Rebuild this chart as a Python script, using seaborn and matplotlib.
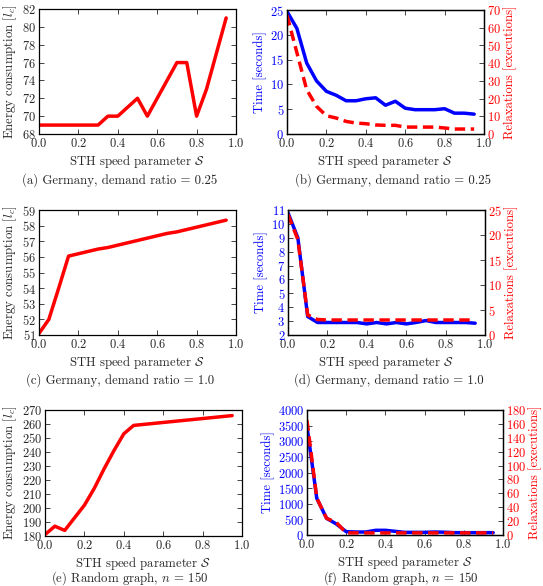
import numpy as np
import matplotlib
matplotlib.use("Agg")
import matplotlib.pyplot as plt
import seaborn as sns

# STH speed parameter (same grid for every panel)
speed = [0.0, 0.05, 0.1, 0.15, 0.2, 0.25, 0.3, 0.35, 0.4, 0.45,
         0.5, 0.55, 0.6, 0.65, 0.7, 0.75, 0.8, 0.85, 0.9, 0.95]

# (a) Germany, demand ratio 0.25
energy_de025 = [69, 69, 69, 69, 69, 69, 69, 70, 70, 71,
                72, 70, 72, 74, 76, 76, 70, 73, 77, 81]
# (b)
time_de025 = [24.7, 21.3, 14.3, 10.7, 8.6, 7.8, 6.7, 6.7, 7.1, 7.3,
              5.8, 6.6, 5.2, 4.9, 4.9, 4.9, 5.1, 4.2, 4.2, 4.0]
relax_de025 = [67, 46, 25, 15.6, 10.3, 9.0, 7.1, 6.2, 5.8, 5.1,
               4.9, 4.9, 3.9, 3.9, 3.9, 3.9, 3.4, 2.8, 2.8, 2.8]

# (c) Germany, demand ratio 1.0
energy_de10 = [51.1, 52.0, 54.0, 56.05, 56.2, 56.35, 56.5, 56.6, 56.75, 56.9,
               57.05, 57.2, 57.35, 57.5, 57.6, 57.75, 57.9, 58.05, 58.2, 58.35]
# (d)
time_de10 = [10.8, 9.0, 3.33, 2.9, 2.9, 2.9, 2.9, 2.9, 2.8, 2.9,
             2.8, 2.9, 2.8, 2.9, 3.04, 2.9, 2.9, 2.9, 2.9, 2.85]
relax_de10 = [24.1, 19.1, 4.0, 3.1, 3, 3, 3, 3, 3, 3,
              3, 3, 3, 3, 3, 3, 3, 3, 3, 3]

# (e) Random graph, n = 150
energy_rnd = [181, 187, 184, 193, 202, 214, 228, 241, 253, 259,
              259.7, 260.4, 261.1, 261.8, 262.5, 263.2, 263.9, 264.6, 265.3, 266]
# (f)
time_rnd = [3467, 1173, 533, 352, 107, 96, 96, 150, 150, 117,
            85, 85, 85, 96, 90, 75, 75, 75, 75, 75]
relax_rnd = [165, 53, 24, 18, 3, 3, 3, 3, 3, 3,
             3, 3, 3, 3, 3, 3, 3, 3, 3, 3]

captions = ["(a) Germany, demand ratio = 0.25",
            "(b) Germany, demand ratio = 0.25",
            "(c) Germany, demand ratio = 1.0",
            "(d) Germany, demand ratio = 1.0",
            "(e) Random graph, $n$ = 150",
            "(f) Random graph, $n$ = 150"]

TICK_FS = 9.0
LABEL_FS = 9.2
CAP_FS = 9.2

sns.set_style("ticks")
plt.rcParams.update({
    "font.family": "serif",
    "font.serif": ["cmr10"],
    "mathtext.fontset": "cm",
    "axes.formatter.use_mathtext": True,
    "axes.unicode_minus": False,
    "xtick.direction": "in",
    "ytick.direction": "in",
    "xtick.major.size": 3.5,
    "ytick.major.size": 3.5,
    "xtick.major.width": 0.6,
    "ytick.major.width": 0.6,
    "xtick.major.pad": 2.5,
    "ytick.major.pad": 2,
    "axes.linewidth": 0.9,
    "axes.edgecolor": "black",
    "axes.labelpad": 2,
})

W, H = 543, 586
fig = plt.figure(figsize=(W / 100, H / 100), dpi=100)


def box(l, r, t, b):
    return [l / W, 1 - b / H, (r - l) / W, (b - t) / H]


def energy_panel(rect, y, ylim, yticks):
    ax = fig.add_axes(box(*rect))
    sns.lineplot(x=speed, y=y, ax=ax, color="r", lw=2.5)
    ax.set_xlim(0, 1)
    ax.set_ylim(*ylim)
    ax.set_xticks(np.arange(0, 1.01, 0.2))
    ax.set_yticks(yticks)
    ax.tick_params(top=True, right=True, labelsize=TICK_FS)
    ax.set_xlabel(r"STH speed parameter $\mathcal{S}$", fontsize=LABEL_FS)
    ax.set_ylabel(r"Energy consumption [$l_c$]", fontsize=LABEL_FS)
    return ax


def time_panel(rect, t, r, tlim, tticks, rlim, rticks):
    ax = fig.add_axes(box(*rect))
    sns.lineplot(x=speed, y=t, ax=ax, color="b", lw=2.5)
    ax.set_xlim(0, 1)
    ax.set_ylim(*tlim)
    ax.set_xticks(np.arange(0, 1.01, 0.2))
    ax.set_yticks(tticks)
    ax.tick_params(top=True, right=False, labelsize=TICK_FS)
    ax.tick_params(axis="y", labelcolor="b")
    ax.set_xlabel(r"STH speed parameter $\mathcal{S}$", fontsize=LABEL_FS)
    ax.set_ylabel("Time [seconds]", color="b", fontsize=LABEL_FS)
    ax2 = ax.twinx()
    sns.lineplot(x=speed, y=r, ax=ax2, color="r", lw=2.5,
                 linestyle=(0, (3, 1.6)))
    ax2.set_ylim(*rlim)
    ax2.set_yticks(rticks)
    ax2.tick_params(axis="y", labelcolor="r", labelsize=TICK_FS, right=True,
                    direction="in")
    ax2.set_ylabel("Relaxations [executions]", color="r", fontsize=LABEL_FS)
    return ax


energy_panel((39, 236, 9, 134), energy_de025, (68, 82), range(68, 83, 2))
time_panel((287, 484, 10, 134), time_de025, relax_de025,
           (0, 25), range(0, 26, 5), (0, 70), range(0, 71, 10))
energy_panel((39, 236, 210, 335), energy_de10, (51, 59), range(51, 60))
time_panel((288, 485, 210, 335), time_de10, relax_de10,
           (2, 11), range(2, 12), (0, 25), range(0, 26, 5))
energy_panel((45, 242, 410, 536), energy_rnd, (180, 270), range(180, 271, 10))
time_panel((307, 503, 410, 535), time_rnd, relax_rnd,
           (0, 4000), range(0, 4001, 500), (0, 180), range(0, 181, 20))

cap_pos = [(120, 180), (393, 180), (120, 380), (389, 380), (130, 578), (401, 578)]
for (cx, cy), txt in zip(cap_pos, captions):
    fig.text(cx / W, 1 - cy / H, txt, ha="center", va="center", fontsize=CAP_FS)

fig.savefig("out.png", dpi=100)
